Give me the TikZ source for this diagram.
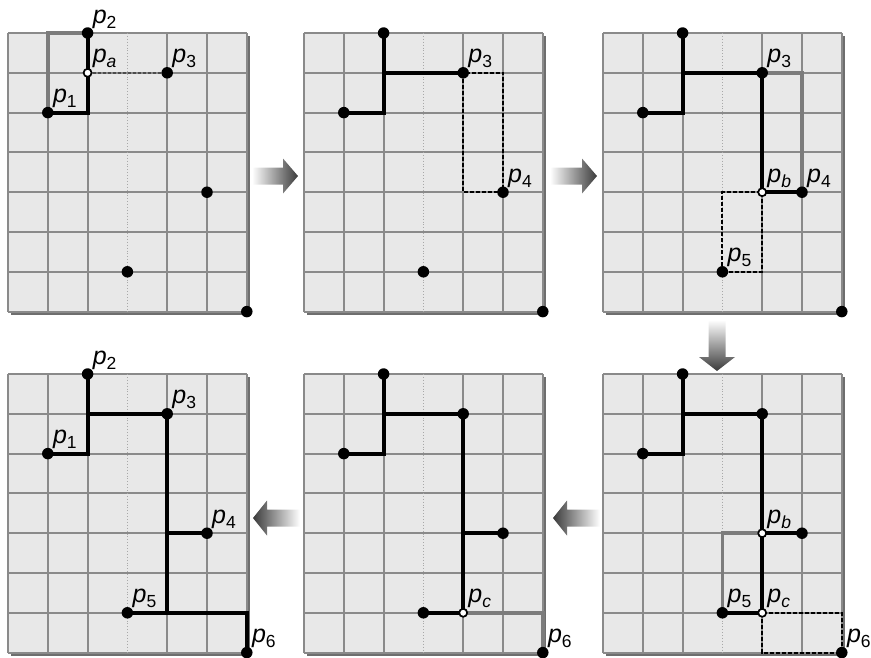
\documentclass[tikz,border=0pt]{standalone}
\usepackage{fontspec}
\setmainfont{Liberation Sans}
\definecolor{cellgray}{HTML}{E8E8E8}
\definecolor{linegray}{HTML}{8A8A8A}
\definecolor{oldgray}{HTML}{7C7C7C}
\definecolor{shadowc}{HTML}{6E6E6E}
\definecolor{midgray}{HTML}{A8A8A8}
\definecolor{arrowc}{HTML}{3A3A3A}
\newcommand\lbl[1]{\textit{p}\raisebox{-5pt}{\fontsize{17.5}{17.5}\selectfont #1}}
\newcommand\drawgrid{%
  \fill[shadowc] ([shift={(3pt,-3pt)}]0,0) rectangle ([shift={(3pt,-3pt)}]6,7);
  \fill[cellgray] (0,0) rectangle (6,7);
  \foreach \j in {0,...,7} \draw[gline] (0,\j) -- (6,\j);
  \foreach \i in {0,1,2,4,5,6} \draw[gline] (\i,0) -- (\i,7);
  \draw[midl] (3,0) -- (3,7);}
\newcommand\pts[1]{%
  \coordinate (#1p1) at (1,2); \coordinate (#1p2) at (2,0);
  \coordinate (#1p3) at (4,1); \coordinate (#1p4) at (5,4);
  \coordinate (#1p5) at (3,6); \coordinate (#1p6) at (6,7);
  \coordinate (#1pa) at (2,1); \coordinate (#1pb) at (4,4);
  \coordinate (#1pc) at (4,6);}
\newcommand\alldots[1]{%
  \node[dot] (#1d1) at (#1p1) {}; \node[dot] (#1d2) at (#1p2) {};
  \node[dot] (#1d3) at (#1p3) {}; \node[dot] (#1d4) at (#1p4) {};
  \node[dot] (#1d5) at (#1p5) {}; \node[dot] (#1d6) at (#1p6) {};}
% horizontal block arrow: #1 start, #2 head base, #3 tip, #4 centre y
\newcommand\harrow[6]{%
  \shade[left color=#5, right color=#6]
    (#1,#4-8.5) -- (#2,#4-8.5) -- (#2,#4-17.5) -- (#3,#4) -- (#2,#4+17.5)
    -- (#2,#4+8.5) -- (#1,#4+8.5) -- cycle;}
\begin{document}
\begin{tikzpicture}[x=1pt,y=-1pt,
  gline/.style={draw=linegray, line width=1.9pt},
  midl/.style={draw=midgray, line width=0.9pt, dotted},
  route/.style={draw=black, line width=3.8pt, line join=miter},
  oldroute/.style={draw=oldgray, line width=3.6pt, line join=miter},
  bbox/.style={draw=black, line width=2pt, dash pattern=on 4pt off 2pt},
  bboxa/.style={draw=black!70, line width=1.5pt, dash pattern=on 3pt off 2pt},
  dot/.style={circle, fill=black, inner sep=0pt, minimum size=11.5pt},
  hole/.style={circle, draw=black, fill=white, line width=1.7pt, inner sep=0pt, minimum size=8pt},
  lab/.style={anchor=base west, xshift=5pt, yshift=10pt, inner sep=0pt,
    font=\fontsize{25}{25}\selectfont}]
\useasboundingbox (0,0) rectangle (871,657);

% ---------- panel 1 ----------
\begin{scope}[shift={(8,33)}, x=39.8pt, y=-39.8pt]
  \drawgrid \pts{A}
  \draw[oldroute] (Ap1) |- (Ap2);
  \draw[bboxa] (Apa) -- (Ap3);
  \draw[route] (Ap1) -| (Ap2);
  \node[dot] (Ad1) at (Ap1) {}; \node[dot] (Ad2) at (Ap2) {};
  \node[dot] (Ad3) at (Ap3) {}; \node[dot] (Ad4) at (Ap4) {};
  \node[dot] (Ad5) at (Ap5) {}; \node[dot] (Ad6) at (Ap6) {};
  \node[hole] (Ada) at (Apa) {};
  \node[lab] (AL2) at (Ap2) {\lbl{2}};
  \node[lab] (ALa) at (Apa) {\lbl{\textit{a}}};
  \node[lab] (AL3) at (Ap3) {\lbl{3}};
  \node[lab] (AL1) at (Ap1) {\lbl{1}};
\end{scope}

% ---------- panel 2 ----------
\begin{scope}[shift={(304,33)}, x=39.8pt, y=-39.8pt]
  \drawgrid \pts{B}
  \draw[bbox] (Bp3) rectangle (Bp4);
  \draw[route] (Bp1) -| (Bp2);
  \draw[route] (Bpa) -- (Bp3);
  \alldots{B}
  \node[lab] (BL3) at (Bp3) {\lbl{3}};
  \node[lab] (BL4) at (Bp4) {\lbl{4}};
\end{scope}

% ---------- panel 3 ----------
\begin{scope}[shift={(603,33)}, x=39.8pt, y=-39.8pt]
  \drawgrid \pts{C}
  \draw[oldroute] (Cp3) -| (Cp4);
  \draw[bbox] (Cp5) rectangle (Cpb);
  \draw[route] (Cp1) -| (Cp2);
  \draw[route] (Cpa) -- (Cp3) -- (Cpb) -- (Cp4);
  \alldots{C}
  \node[hole] (Cdb) at (Cpb) {};
  \node[lab] (CL3) at (Cp3) {\lbl{3}};
  \node[lab] (CLb) at (Cpb) {\lbl{\textit{b}}};
  \node[lab] (CL4) at (Cp4) {\lbl{4}};
  \node[lab] (CL5) at (Cp5) {\lbl{5}};
\end{scope}

% ---------- panel 4 ----------
\begin{scope}[shift={(603,374)}, x=39.8pt, y=-39.8pt]
  \drawgrid \pts{D}
  \draw[oldroute] (Dpb) -| (Dp5);
  \draw[bbox] (Dpc) rectangle (Dp6);
  \draw[route] (Dp1) -| (Dp2);
  \draw[route] (Dpa) -- (Dp3) -- (Dpc) -- (Dp5);
  \draw[route] (Dpb) -- (Dp4);
  \alldots{D}
  \node[hole] (Ddb) at (Dpb) {};
  \node[hole] (Ddc) at (Dpc) {};
  \node[lab] (DLb) at (Dpb) {\lbl{\textit{b}}};
  \node[lab] (DL5) at (Dp5) {\lbl{5}};
  \node[lab] (DLc) at (Dpc) {\lbl{\textit{c}}};
  \node[lab] (DL6) at (Dp6) {\lbl{6}};
\end{scope}

% ---------- panel 5 ----------
\begin{scope}[shift={(304,374)}, x=39.8pt, y=-39.8pt]
  \drawgrid \pts{E}
  \draw[oldroute] (Epc) -| (Ep6);
  \draw[route] (Ep1) -| (Ep2);
  \draw[route] (Epa) -- (Ep3) -- (Epc) -- (Ep5);
  \draw[route] (Epb) -- (Ep4);
  \alldots{E}
  \node[hole] (Edc) at (Epc) {};
  \node[lab] (ELc) at (Epc) {\lbl{\textit{c}}};
  \node[lab] (EL6) at (Ep6) {\lbl{6}};
\end{scope}

% ---------- panel 6 ----------
\begin{scope}[shift={(8,374)}, x=39.8pt, y=-39.8pt]
  \drawgrid \pts{F}
  \draw[route] (Fp1) -| (Fp2);
  \draw[route] (Fpa) -- (Fp3) -- (Fpc);
  \draw[route] (Fpb) -- (Fp4);
  \draw[route] (Fp5) -| (Fp6);
  \alldots{F}
  \node[lab] (FL1) at (Fp1) {\lbl{1}};
  \node[lab] (FL2) at (Fp2) {\lbl{2}};
  \node[lab] (FL3) at (Fp3) {\lbl{3}};
  \node[lab] (FL4) at (Fp4) {\lbl{4}};
  \node[lab] (FL5) at (Fp5) {\lbl{5}};
  \node[lab] (FL6) at (Fp6) {\lbl{6}};
\end{scope}

% ---------- block arrows ----------
\harrow{252}{283}{298}{176}{white}{arrowc}
\harrow{550}{582}{597}{176}{white}{arrowc}
\harrow{600}{567}{553}{518}{arrowc}{white}
\harrow{300}{267}{253}{518}{arrowc}{white}
\shade[top color=white, bottom color=arrowc]
  (708.5,320) -- (725.5,320) -- (725.5,357) -- (735,357) -- (717,371)
  -- (699,357) -- (708.5,357) -- cycle;
\end{tikzpicture}
\end{document}
